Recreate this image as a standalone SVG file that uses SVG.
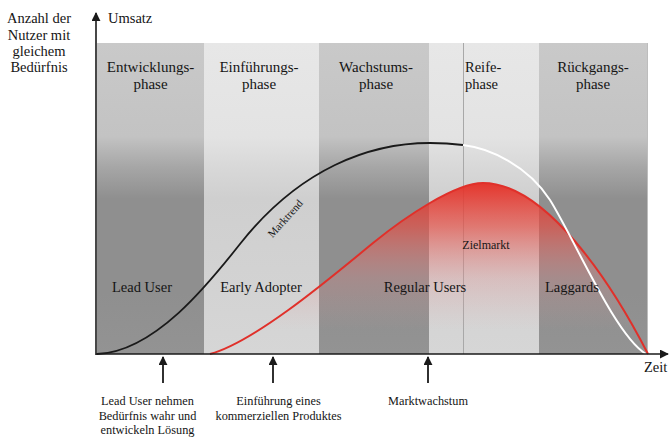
<svg xmlns="http://www.w3.org/2000/svg" width="669" height="439" viewBox="0 0 669 439" font-family="'Liberation Serif', 'DejaVu Serif', serif">
<style>
text{font-family:"Liberation Serif","DejaVu Serif",serif;fill:#151515}
.lg{font-size:14.5px}
.ph{font-size:15px;text-anchor:middle}
.md{font-size:14.5px;text-anchor:middle}
.sm{font-size:12.3px;text-anchor:middle}
.ax{stroke:#1a1a1a;stroke-width:1.6;fill:none}
.arr{stroke:#1a1a1a;stroke-width:1.8;fill:none}
</style>
<defs>
<linearGradient id="gDark" gradientUnits="userSpaceOnUse" x1="0" y1="43" x2="0" y2="354">
<stop offset="0" stop-color="#c9c9c9"/>
<stop offset="0.3" stop-color="#c3c3c3"/>
<stop offset="0.4" stop-color="#a6a6a6"/>
<stop offset="0.5" stop-color="#8f8f8f"/>
<stop offset="0.8" stop-color="#8f8f8f"/>
<stop offset="1" stop-color="#939393"/>
</linearGradient>
<linearGradient id="gLight" gradientUnits="userSpaceOnUse" x1="0" y1="43" x2="0" y2="354">
<stop offset="0" stop-color="#e7e7e7"/>
<stop offset="0.3" stop-color="#e3e3e3"/>
<stop offset="0.4" stop-color="#d8d8d8"/>
<stop offset="0.5" stop-color="#cfcfcf"/>
<stop offset="0.8" stop-color="#d3d3d3"/>
<stop offset="1" stop-color="#d6d6d6"/>
</linearGradient>
<linearGradient id="gRed" gradientUnits="userSpaceOnUse" x1="0" y1="183" x2="0" y2="330">
<stop offset="0" stop-color="#e52d24" stop-opacity="0.95"/>
<stop offset="0.3" stop-color="#e84a40" stop-opacity="0.65"/>
<stop offset="0.65" stop-color="#e88080" stop-opacity="0.25"/>
<stop offset="1" stop-color="#e8a0a0" stop-opacity="0"/>
</linearGradient>
<marker id="ah" viewBox="0 0 10 10" refX="9" refY="5" markerWidth="9" markerHeight="9" markerUnits="userSpaceOnUse" orient="auto">
<path d="M0,0 L10,5 L0,10 Z" fill="#1a1a1a"/>
</marker>
</defs>
<rect width="669" height="439" fill="#ffffff"/>

<g id="phases">
<g id="phase-entwicklung">
<rect x="97" y="43" width="107" height="311" fill="url(#gDark)"/>
<text class="ph" x="150.5" y="72">Entwicklungs-</text>
<text class="ph" x="150.5" y="89">phase</text>
</g>
<g id="phase-einfuehrung">
<rect x="204" y="43" width="115" height="311" fill="url(#gLight)"/>
<text class="ph" x="259" y="72">Einführungs-</text>
<text class="ph" x="259" y="89">phase</text>
</g>
<g id="phase-wachstum">
<rect x="319" y="43" width="110" height="311" fill="url(#gDark)"/>
<text class="ph" x="376" y="72">Wachstums-</text>
<text class="ph" x="376" y="89">phase</text>
</g>
<g id="phase-reife">
<rect x="429" y="43" width="110" height="311" fill="url(#gLight)"/>
<line x1="463.5" y1="43" x2="463.5" y2="354" stroke="#a8a8a8" stroke-width="1"/>
<text class="lg" x="465" y="72">Reife-</text>
<text class="lg" x="465" y="89">phase</text>
</g>
<g id="phase-rueckgang">
<rect x="539" y="43" width="108" height="311" fill="url(#gDark)"/>
<line x1="647.5" y1="43" x2="647.5" y2="354" stroke="#bdbdbd" stroke-width="1"/>
<text class="ph" x="593" y="72">Rückgangs-</text>
<text class="ph" x="593" y="89">phase</text>
</g>
</g>

<g id="curves">
<path id="zielmarkt-fill" d="M210,354 C255,342 333,276 373,243 C405,217 455,183 483,183 C545,183 610,280 648,354 Z" fill="url(#gRed)"/>
<path id="zielmarkt-curve" d="M210,354 C255,342 333,276 373,243 C405,217 455,183 483,183 C545,183 610,280 648,354" fill="none" stroke="#e0302a" stroke-width="2"/>
<path id="marktrend-white" d="M463,145 C490,148 528,166 550,200 C575,240 615,335 646,354" fill="none" stroke="#ffffff" stroke-width="2"/>
<path id="marktrend" d="M97,354 C155,352 210,282 240,244 C300,168 370,143 430,143 C445,143 455,144 463,145" fill="none" stroke="#1a1a1a" stroke-width="1.8"/>
</g>

<g id="labels">
<text x="288" y="221" transform="rotate(-48 288 221)" style="font-size:11px;text-anchor:middle">Marktrend</text>
<text x="486" y="249" style="font-size:12px;text-anchor:middle">Zielmarkt</text>
<text class="md" x="142" y="292">Lead User</text>
<text class="md" x="261" y="292">Early Adopter</text>
<text class="md" x="425" y="292">Regular Users</text>
<text class="md" x="572" y="292">Laggards</text>
</g>

<g id="axes">
<line class="ax" x1="96" y1="355" x2="96" y2="13" marker-end="url(#ah)"/>
<line class="ax" x1="96" y1="354" x2="668" y2="354" marker-end="url(#ah)"/>
<text class="lg" x="39" y="23" text-anchor="middle">Anzahl der</text>
<text class="lg" x="39" y="40" text-anchor="middle">Nutzer mit</text>
<text class="lg" x="39" y="56" text-anchor="middle">gleichem</text>
<text class="lg" x="39" y="72" text-anchor="middle">Bedürfnis</text>
<text class="lg" x="108" y="23">Umsatz</text>
<text class="lg" x="644" y="372">Zeit</text>
</g>

<g id="connectors">
<line class="arr" x1="163" y1="383" x2="163" y2="357" marker-end="url(#ah)"/>
<line class="arr" x1="273" y1="383" x2="273" y2="357" marker-end="url(#ah)"/>
<line class="arr" x1="428" y1="383" x2="428" y2="357" marker-end="url(#ah)"/>
</g>

<g id="events">
<g id="event-leaduser">
<text class="sm" x="147.5" y="405">Lead User nehmen</text>
<text class="sm" x="147.5" y="420">Bedürfnis wahr und</text>
<text class="sm" x="147.5" y="434">entwickeln Lösung</text>
</g>
<g id="event-einfuehrung">
<text class="sm" x="278.5" y="405">Einführung eines</text>
<text class="sm" x="278.5" y="420">kommerziellen Produktes</text>
</g>
<g id="event-markt">
<text class="sm" x="428" y="405">Marktwachstum</text>
</g>
</g>
</svg>
